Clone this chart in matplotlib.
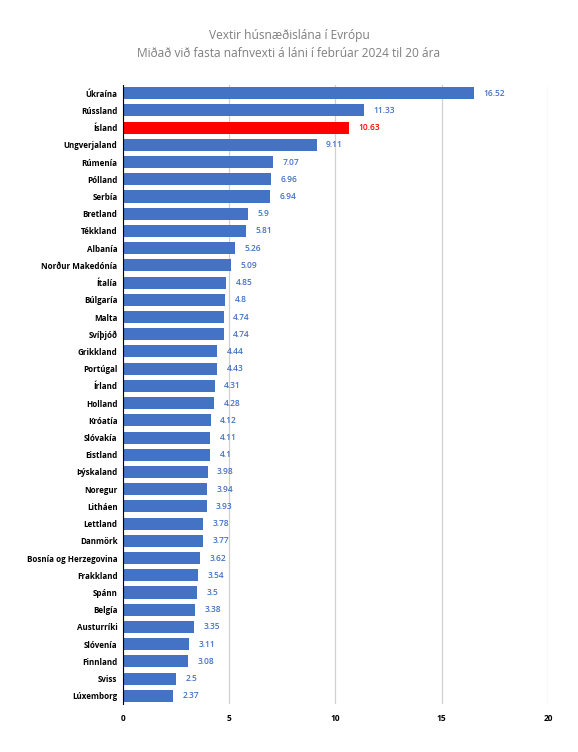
import numpy as np
import matplotlib.pyplot as plt

countries = ["Úkraína", "Rússland", "Ísland", "Ungverjaland", "Rúmenía", "Pólland",
             "Serbía", "Bretland", "Tékkland", "Albanía", "Norður Makedónía", "Ítalía",
             "Búlgaría", "Malta", "Svíþjóð", "Grikkland", "Portúgal", "Írland", "Holland",
             "Króatía", "Slóvakía", "Eistland", "Þýskaland", "Noregur", "Litháen",
             "Lettland", "Danmörk", "Bosnía og Herzegovina", "Frakkland", "Spánn",
             "Belgía", "Austurríki", "Slóvenía", "Finnland", "Sviss", "Lúxemborg"]
rates = [16.52, 11.33, 10.63, 9.11, 7.07, 6.96, 6.94, 5.9, 5.81, 5.26, 5.09, 4.85,
         4.8, 4.74, 4.74, 4.44, 4.43, 4.31, 4.28, 4.12, 4.11, 4.1, 3.98, 3.94, 3.93,
         3.78, 3.77, 3.62, 3.54, 3.5, 3.38, 3.35, 3.11, 3.08, 2.5, 2.37]
highlight = "Ísland"
xticks = [0, 5, 10, 15, 20]

plt.rcParams['font.family'] = ['Open Sans', 'DejaVu Sans']

blue = '#4472C4'
red = '#FF0000'

fig = plt.figure(figsize=(5.78, 7.52), dpi=100)
ax = fig.add_axes([0.2128, 0.0633, 0.7352, 0.8242])

y = np.arange(len(countries))
colors = [red if c == highlight else blue for c in countries]
ax.barh(y, rates, height=0.7, color=colors, zorder=3)

for yi, v, c in zip(y, rates, colors):
    ax.text(v + 0.45, yi, f"{v:g}", va='center', ha='left', fontsize=6,
            fontweight='semibold', color=c)

ax.set_ylim(len(countries) - 0.5, -0.5)
ax.set_yticks(y)
ax.set_yticklabels(countries, fontsize=5.8, fontweight='bold')
ax.set_xlim(0, 20)
ax.set_xticks(xticks)
ax.set_xticklabels([str(t) for t in xticks], fontsize=6, fontweight='bold')
ax.tick_params(axis='y', length=0, pad=4)
ax.tick_params(axis='x', length=0, pad=7)

ax.grid(axis='x', color='#D0D0D0', linewidth=0.9, zorder=0)
for s in ['top', 'right', 'bottom']:
    ax.spines[s].set_visible(False)
ax.spines['left'].set_color('black')
ax.spines['left'].set_linewidth(0.8)
ax.spines['left'].set_zorder(4)

fig.text(0.5, 0.953, "Vextir húsnæðislána í Evrópu", ha='center', va='center',
         fontsize=8.6, color='#7F7F7F')
fig.text(0.5, 0.929, "Miðað við fasta nafnvexti á láni í febrúar 2024 til 20 ára",
         ha='center', va='center', fontsize=8.6, color='#7F7F7F')

fig.savefig("out.png", dpi=100)
